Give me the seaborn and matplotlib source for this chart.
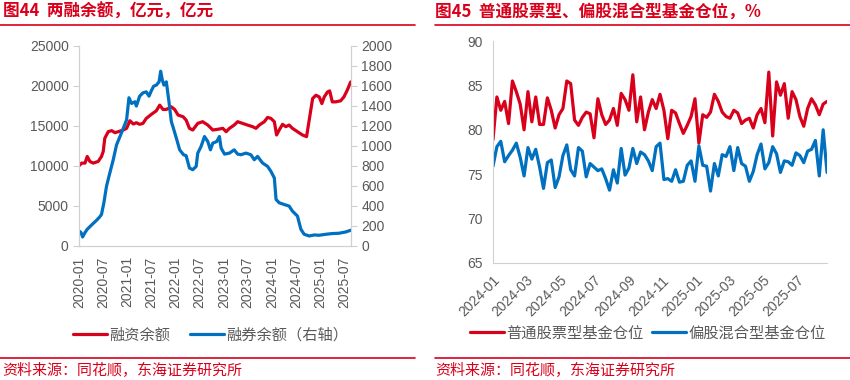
import pandas as pd
import numpy as np
import seaborn as sns
import matplotlib.pyplot as plt
import matplotlib.dates as mdates
from matplotlib.lines import Line2D

# %% Data

# 融资余额 (left axis)
fin_dates = ['2020-01-01', '2020-01-21', '2020-02-15', '2020-03-03', '2020-03-23', '2020-04-17',
             '2020-05-25', '2020-06-19', '2020-07-02', '2020-07-14', '2020-08-09', '2020-09-04',
             '2020-09-29', '2020-10-24', '2020-12-01', '2020-12-26', '2021-01-20', '2021-02-15',
             '2021-03-10', '2021-04-04', '2021-04-29', '2021-05-24', '2021-07-01', '2021-08-08',
             '2021-09-03', '2021-09-28', '2021-10-23', '2021-11-30', '2021-12-25', '2022-01-20',
             '2022-02-27', '2022-03-22', '2022-04-16', '2022-05-11', '2022-06-18', '2022-07-25',
             '2022-09-02', '2022-10-10', '2022-11-17', '2022-12-25', '2023-01-19', '2023-02-13',
             '2023-03-21', '2023-04-16', '2023-05-23', '2023-06-30', '2023-08-07', '2023-09-02',
             '2023-09-27', '2023-11-04', '2023-11-29', '2023-12-24', '2024-01-19', '2024-02-05',
             '2024-02-25', '2024-03-21', '2024-04-15', '2024-05-10', '2024-06-04', '2024-07-12',
             '2024-08-19', '2024-09-19', '2024-10-09', '2024-11-04', '2024-11-29', '2024-12-24',
             '2025-01-13', '2025-01-31', '2025-02-25', '2025-03-13', '2025-04-02', '2025-04-27',
             '2025-06-04', '2025-06-29', '2025-07-24', '2025-08-19']
fin_values = [10020, 10350, 10350, 11180, 10560, 10350, 10560, 11180, 11800, 13460, 14280, 14410,
              14160, 14280, 14490, 14700, 15650, 15240, 15400, 15200, 15320, 15940, 16440, 16890,
              17600, 17060, 17060, 17390, 17060, 16360, 16150, 15730, 14700, 14490, 15320, 15530,
              15110, 14490, 14580, 14700, 14280, 14700, 15110, 15530, 15320, 15110, 14910, 14700,
              15110, 15530, 16070, 15940, 15530, 13870, 14490, 15200, 14910, 15110, 14700, 14280,
              13870, 13660, 15730, 18430, 18840, 18630, 17800, 18630, 19250, 19380, 18010, 18010,
              18140, 18630, 19460, 20500]

# 融券余额 (right axis)
sec_dates = ['2020-01-01', '2020-01-16', '2020-01-28', '2020-02-15', '2020-03-03', '2020-04-05',
             '2020-05-12', '2020-06-07', '2020-06-19', '2020-07-07', '2020-07-27', '2020-08-21',
             '2020-09-16', '2020-10-11', '2020-11-06', '2020-12-06', '2020-12-26', '2021-01-13',
             '2021-02-02', '2021-02-27', '2021-03-10', '2021-04-04', '2021-04-29', '2021-05-24',
             '2021-06-14', '2021-07-01', '2021-07-19', '2021-08-08', '2021-08-29', '2021-09-10',
             '2021-09-23', '2021-10-05', '2021-10-23', '2021-11-12', '2021-11-30', '2021-12-12',
             '2022-01-07', '2022-02-01', '2022-03-02', '2022-03-22', '2022-04-16', '2022-05-11',
             '2022-06-06', '2022-06-18', '2022-07-13', '2022-08-08', '2022-09-02', '2022-09-22',
             '2022-10-10', '2022-11-09', '2022-11-29', '2022-12-12', '2023-01-07', '2023-02-13',
             '2023-03-21', '2023-04-16', '2023-05-11', '2023-06-18', '2023-07-25', '2023-08-20',
             '2023-09-14', '2023-10-22', '2023-11-29', '2023-12-24', '2024-01-19', '2024-02-01',
             '2024-02-25', '2024-04-02', '2024-05-10', '2024-06-04', '2024-07-12', '2024-08-07',
             '2024-09-01', '2024-10-09', '2024-11-16', '2024-12-24', '2025-02-12', '2025-04-02',
             '2025-05-22', '2025-07-12', '2025-08-19']
sec_values = [149, 133, 89, 133, 166, 209, 255, 292, 315, 431, 597, 729,
              862, 1011, 1094, 1193, 1260, 1482, 1425, 1442, 1399, 1498, 1531, 1541,
              1498, 1551, 1598, 1608, 1641, 1747, 1657, 1608, 1641, 1442, 1243, 1193,
              1077, 961, 912, 902, 779, 762, 795, 928, 994, 1094, 1044, 961,
              1028, 1044, 1094, 978, 918, 928, 961, 918, 912, 928, 912, 862,
              895, 829, 795, 746, 679, 464, 431, 414, 398, 348, 298, 166,
              116, 99, 109, 106, 116, 123, 126, 139, 156]

# 基金仓位, weekly
pos_start = '2024-01-01'
stock_fund = [78.9, 83.7, 82.2, 83.2, 80.7, 85.5, 84.3, 82.9, 80.0, 84.3,
              80.9, 83.7, 80.6, 80.6, 83.6, 82.2, 80.2, 81.7, 82.4, 85.5,
              85.2, 81.1, 80.5, 81.4, 82.0, 81.8, 79.1, 83.5, 81.7, 80.6,
              81.1, 82.4, 80.5, 84.1, 83.4, 82.2, 86.2, 80.9, 83.7, 80.0,
              82.0, 83.4, 82.4, 84.0, 82.2, 79.0, 82.2, 81.9, 80.7, 79.6,
              80.5, 81.5, 83.5, 78.5, 81.7, 81.4, 82.0, 84.0, 83.2, 82.0,
              81.5, 81.3, 82.2, 81.9, 80.7, 81.1, 81.3, 80.2, 81.7, 82.4,
              80.8, 86.5, 79.3, 85.4, 83.9, 85.2, 81.3, 84.3, 83.4, 81.5,
              80.4, 82.4, 83.5, 82.8, 81.7, 82.9, 83.2]
mixed_fund = [75.9, 78.1, 78.7, 76.4, 77.1, 77.7, 78.5, 76.9, 74.8, 78.0,
              76.7, 77.8, 75.8, 73.4, 76.3, 76.6, 73.5, 74.7, 77.1, 78.3,
              75.5, 74.8, 78.0, 77.6, 74.7, 76.2, 75.8, 75.4, 75.6, 74.5,
              73.2, 75.5, 74.0, 77.9, 74.9, 75.7, 77.9, 76.2, 77.5, 77.2,
              76.5, 75.4, 78.1, 78.5, 74.4, 74.5, 74.2, 75.5, 74.1, 74.2,
              76.0, 76.5, 74.2, 78.2, 76.0, 75.9, 73.1, 76.2, 74.8, 77.2,
              77.0, 78.1, 75.4, 78.0, 76.2, 75.9, 74.2, 75.3, 77.2, 78.4,
              75.6, 76.3, 78.1, 77.3, 75.2, 76.5, 76.4, 76.0, 77.4, 77.1,
              76.3, 77.6, 77.8, 78.8, 74.8, 80.0, 75.2]

# %% Style
RED = '#D9001B'
BLUE = '#0070C0'
TXT = '#595959'
GRID = '#D0D0D0'

sns.set_style('white')
plt.rcParams['font.family'] = ['Liberation Sans', 'Noto Sans CJK SC', 'DejaVu Sans']
plt.rcParams['axes.unicode_minus'] = False
CJK = ['Noto Sans CJK SC', 'DejaVu Sans']

fin_df = pd.DataFrame({'date': pd.to_datetime(fin_dates), 'val': fin_values})
sec_df = pd.DataFrame({'date': pd.to_datetime(sec_dates), 'val': sec_values})
pos_df = pd.DataFrame({'date': pd.date_range(pos_start, periods=len(stock_fund), freq='7D'),
                       'stock': stock_fund, 'mixed': mixed_fund})

fig = plt.figure(figsize=(8.5, 3.8), dpi=100)


def style_axis(ax):
    for s in ax.spines.values():
        s.set_color(GRID)
    ax.tick_params(colors=TXT, labelsize=10, length=4, width=0.8, direction='out')
    ax.tick_params(axis='both', color=GRID)
    ax.set_xlabel('')
    ax.set_ylabel('')


# %% Left chart
ax1 = fig.add_axes([0.093, 0.353, 0.320, 0.526])
sns.lineplot(data=fin_df, x='date', y='val', color=RED, lw=2.3, ax=ax1, label='融资余额', legend=False)
ax2 = ax1.twinx()
sns.lineplot(data=sec_df, x='date', y='val', color=BLUE, lw=2.3, ax=ax2, label='融券余额（右轴）', legend=False)

ax1.set_ylim(0, 25000)
ax1.set_yticks(np.arange(0, 25001, 5000))
ax2.set_ylim(0, 2000)
ax2.set_yticks(np.arange(0, 2001, 200))
ax1.set_xlim(pd.Timestamp('2020-01-01'), pd.Timestamp('2025-08-22'))
ax1.xaxis.set_major_locator(mdates.MonthLocator(bymonth=[1, 7]))
ax1.xaxis.set_major_formatter(mdates.DateFormatter('%Y-%m'))
for ax in (ax1, ax2):
    style_axis(ax)
    ax.spines['top'].set_visible(False)
ax1.tick_params(axis='x', rotation=90)

h1, l1 = ax1.get_legend_handles_labels()
h2, l2 = ax2.get_legend_handles_labels()
fig.legend(h1 + h2, l1 + l2, loc='center', bbox_to_anchor=(0.248, 0.118), ncol=2,
           frameon=False, labelcolor=TXT, handlelength=2.2, handletextpad=0.15,
           columnspacing=1.3, prop={'family': CJK, 'size': 11})

# %% Right chart
ax3 = fig.add_axes([0.580, 0.308, 0.393, 0.584])
sns.lineplot(data=pos_df, x='date', y='stock', color=RED, lw=2.3, ax=ax3, label='普通股票型基金仓位')
sns.lineplot(data=pos_df, x='date', y='mixed', color=BLUE, lw=2.3, ax=ax3, label='偏股混合型基金仓位')
ax3.set_ylim(65, 90)
ax3.set_yticks(np.arange(65, 91, 5))
ax3.set_xlim(pos_df['date'].iloc[0], pos_df['date'].iloc[-1])
ax3.xaxis.set_major_locator(mdates.MonthLocator(bymonth=[1, 3, 5, 7, 9, 11]))
ax3.xaxis.set_major_formatter(mdates.DateFormatter('%Y-%m'))
style_axis(ax3)
ax3.spines['top'].set_visible(False)
ax3.spines['right'].set_visible(False)
for lab in ax3.get_xticklabels():
    lab.set_rotation(45)
    lab.set_ha('right')
    lab.set_rotation_mode('anchor')
h3, l3 = ax3.get_legend_handles_labels()
ax3.get_legend().remove()
fig.legend(h3, l3, loc='center', bbox_to_anchor=(0.762, 0.124), ncol=2, frameon=False,
           labelcolor=TXT, handlelength=2.2, columnspacing=0.6, handletextpad=0.15,
           prop={'family': CJK, 'size': 11})

# %% Titles, rules and sources
fig.text(0.003, 0.968, '图44  两融余额，亿元，亿元', color=RED, fontsize=12, fontweight='bold',
         va='center', family=CJK)
fig.text(0.512, 0.968, '图45  普通股票型、偏股混合型基金仓位，%', color=RED, fontsize=12,
         fontweight='bold', va='center', family=CJK)
for x0, x1 in [(0.0, 0.488), (0.512, 1.0)]:
    fig.add_artist(Line2D([x0, x1], [0.934, 0.934], color=RED, lw=1.2))
    fig.add_artist(Line2D([x0, x1], [0.058, 0.058], color=RED, lw=1.2))
fig.text(0.003, 0.024, '资料来源：同花顺，东海证券研究所', color=RED, fontsize=10.8, va='center', family=CJK)
fig.text(0.512, 0.024, '资料来源：同花顺，东海证券研究所', color=RED, fontsize=10.8, va='center', family=CJK)

fig.savefig('out.png', dpi=100, facecolor='white')
